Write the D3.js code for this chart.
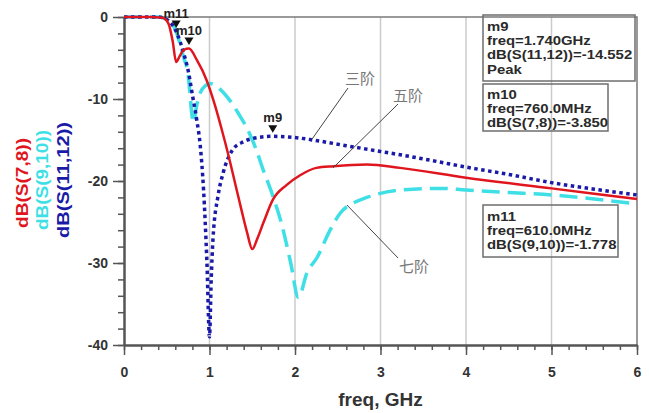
<!DOCTYPE html>
<html>
<head>
<meta charset="utf-8">
<script src="https://cdn.jsdelivr.net/npm/d3@7"></script>
<style>
body{margin:0;background:#fff;}
svg{display:block;font-family:"Liberation Sans",Arial,sans-serif;}
</style>
</head>
<body>
<svg id="chart" width="649" height="413"></svg>
<script>
// curves: [freq in GHz, dB]
const s78 = [[0,0],[0.3,0],[0.45,-0.1],[0.52,-0.8],[0.57,-3],[0.61,-5.5],[0.65,-4.8],[0.7,-4.0],[0.76,-3.85],
  [0.85,-5.2],[0.97,-7.8],[1.05,-10.3],[1.14,-13.6],[1.22,-16.8],[1.3,-20.3],[1.38,-23.8],[1.44,-26.3],[1.5,-28.3],
  [1.56,-27],[1.63,-25.1],[1.74,-22.3],[1.9,-20.5],[2.06,-19.3],[2.25,-18.4],[2.45,-18.2],[2.84,-18.0],
  [3.23,-18.4],[4.0,-19.6],[5.0,-20.9],[6.0,-22.2]];
const s910 = [[0,0],[0.4,0],[0.5,-0.3],[0.61,-1.778],[0.66,-3.5],[0.7,-5],[0.75,-7],[0.79,-11.5],[0.81,-12.9],
  [0.85,-10.8],[0.89,-9.3],[0.95,-8.4],[1.0,-8.1],[1.1,-8.6],[1.24,-10.2],[1.34,-11.8],[1.44,-13.6],[1.54,-16],
  [1.63,-18.7],[1.73,-21.5],[1.85,-25.5],[1.95,-30],[2.04,-34.2],[2.14,-31.2],[2.26,-29.3],[2.4,-26.2],
  [2.53,-23.9],[2.7,-22.6],[2.84,-22.0],[3.23,-21.1],[3.7,-20.9],[4.0,-21.1],[4.5,-21.4],[5.0,-21.7],
  [5.5,-22.2],[6.0,-22.8]];
const s1112 = [[0,0],[0.4,0],[0.5,-0.3],[0.62,-2],[0.7,-4.5],[0.75,-6.5],[0.8,-9.5],[0.85,-12.5],[0.89,-15.5],
  [0.93,-21],[0.97,-30],[1.0,-39],[1.02,-32],[1.04,-27.2],[1.1,-21.8],[1.16,-19.0],[1.27,-16.2],[1.4,-15.2],
  [1.51,-14.8],[1.74,-14.552],[2.0,-14.7],[2.21,-15.0],[2.6,-15.7],[3.0,-16.4],[3.23,-16.8],[3.6,-17.5],
  [4.0,-18.3],[4.5,-19.2],[5.0,-20.2],[5.5,-21.0],[6.0,-21.7]];

const xTicks = [0,1,2,3,4,5,6];
const yTicks = [0,-10,-20,-30,-40];
const yLabels = ["dB(S(7,8))","dB(S(9,10))","dB(S(11,12))"];

const markerNames = ["m9","m10","m11"];
const markerFreq = [1.74,0.76,0.61];
const markerDb = [-14.552,-3.85,-1.778];
const readouts = [
  ["m9","freq=1.740GHz","dB(S(11,12))=-14.552","Peak"],
  ["m10","freq=760.0MHz","dB(S(7,8))=-3.850"],
  ["m11","freq=610.0MHz","dB(S(9,10))=-1.778"]
];

// chinese notes: label anchor and leader line, in data units
const notes = [
  {text:"三阶", at:[2.585,-8.17], from:[2.62,-8.66], to:[2.2,-14.88]},
  {text:"五阶", at:[3.146,-10.24], from:[3.205,-10.61], to:[2.444,-18.41]},
  {text:"七阶", at:[3.216,-31.1], from:[3.205,-29.39], to:[2.608,-22.93]}
];

const RED = "#e0161e", CYAN = "#3fdfe6", BLUE = "#1a1aa8";

const svg = d3.select("#chart");
const x = d3.scaleLinear().domain([0,6]).range([124,637]);
const y = d3.scaleLinear().domain([-40,0]).range([345,17]);

// vertical grid
svg.append("g").selectAll("line").data(xTicks.slice(1,-1)).join("line")
  .attr("x1",x).attr("x2",x).attr("y1",y(0)).attr("y2",y(-40))
  .attr("stroke","#cbcbcb").attr("stroke-width",1.5);

// top + right frame
svg.append("path")
  .attr("d",`M${x(0)},${y(0)}H${x(6)}V${y(-40)}`)
  .attr("fill","none").attr("stroke","#7a7a7a").attr("stroke-width",1.5);

function styleAxis(g){
  g.select(".domain").attr("stroke","#555").attr("stroke-width",2);
  g.selectAll(".tick line").attr("stroke","#555").attr("stroke-width",1.5);
  g.selectAll(".tick text").attr("fill","#333").attr("font-size",14)
    .attr("font-weight","bold").attr("font-family","Liberation Sans, Arial, sans-serif");
}

const yMinor = d3.range(0,-41,-2);
const xMinor = d3.range(0,6.01,0.2);

svg.append("g").attr("transform",`translate(${x(0)},0)`)
  .call(d3.axisLeft(y).tickValues(yMinor).tickSize(6).tickFormat("").tickSizeOuter(0)).call(styleAxis);
svg.append("g").attr("transform",`translate(${x(0)},0)`)
  .call(d3.axisLeft(y).tickValues(yTicks).tickSize(11).tickPadding(5).tickFormat(d=>String(d)).tickSizeOuter(0))
  .call(styleAxis);
svg.append("g").attr("transform",`translate(0,${y(-40)})`)
  .call(d3.axisBottom(x).tickValues(xMinor).tickSize(5).tickFormat("").tickSizeOuter(0)).call(styleAxis);
svg.append("g").attr("transform",`translate(0,${y(-40)})`)
  .call(d3.axisBottom(x).tickValues(xTicks).tickSize(10).tickPadding(12).tickFormat(d=>String(d)).tickSizeOuter(0))
  .call(styleAxis);

// axis titles
svg.append("text").attr("x",(x(0)+x(6))/2).attr("y",406).attr("text-anchor","middle")
  .attr("font-size",19).attr("font-weight","bold").attr("fill","#333").text("freq, GHz");

const labelColors = [RED,CYAN,BLUE];
const labelLen = [90,100,116];
const labelX = [28,48,69];
const labelY = [183,180,180];
yLabels.forEach((t,i)=>{
  svg.append("text")
    .attr("transform",`translate(${labelX[i]},${labelY[i]}) rotate(-90)`)
    .attr("text-anchor","middle").attr("font-size",16).attr("font-weight","bold")
    .attr("fill",labelColors[i])
    .attr("textLength",labelLen[i]).attr("lengthAdjust","spacingAndGlyphs")
    .text(t);
});

// curves
const line = d3.line().x(d=>x(d[0])).y(d=>y(d[1])).curve(d3.curveMonotoneX);
svg.append("path").datum(s910).attr("d",line).attr("fill","none")
  .attr("stroke",CYAN).attr("stroke-width",3.5).attr("stroke-dasharray","18,8");
svg.append("path").datum(s1112).attr("d",line).attr("fill","none")
  .attr("stroke",BLUE).attr("stroke-width",3.5).attr("stroke-dasharray","3.5,3.5");
svg.append("path").datum(s78).attr("d",line).attr("fill","none")
  .attr("stroke",RED).attr("stroke-width",2.5);

// markers
markerNames.forEach((m,i)=>{
  const px = x(markerFreq[i]), py = y(markerDb[i]) - 3.5;
  svg.append("path").attr("transform",`translate(${px},${py})`)
    .attr("d","M-4.5,-7.5L4.5,-7.5L0,0Z").attr("fill","#111");
  svg.append("text").attr("x",px).attr("y",py-10.5).attr("text-anchor","middle")
    .attr("font-size",13).attr("font-weight","bold").attr("fill","#222").text(m);
});

// readout boxes (text is drawn wide, like the original export)
const boxes = [
  {x:483,y:15,w:152,h:66,base:31},
  {x:483,y:84,w:125,h:47,base:99},
  {x:483,y:205,w:135,h:52,base:221}
];
readouts.forEach((lines,i)=>{
  const b = boxes[i];
  svg.append("rect").attr("x",b.x).attr("y",b.y).attr("width",b.w).attr("height",b.h)
    .attr("fill","none").attr("stroke","#6e6e6e").attr("stroke-width",1.5);
  lines.forEach((t,j)=>{
    const txt = svg.append("text").attr("x",b.x+4).attr("y",b.base+j*14.2)
      .attr("font-size",12).attr("font-weight","bold").attr("fill","#2a2a2a").text(t);
    const w = txt.node().getComputedTextLength();
    txt.attr("textLength",w*1.24).attr("lengthAdjust","spacingAndGlyphs");
  });
});

// notes
notes.forEach(n=>{
  svg.append("line").attr("x1",x(n.from[0])).attr("y1",y(n.from[1]))
    .attr("x2",x(n.to[0])).attr("y2",y(n.to[1])).attr("stroke","#444").attr("stroke-width",1);
  svg.append("text").attr("x",x(n.at[0])).attr("y",y(n.at[1]))
    .attr("font-family","'Noto Sans CJK SC', sans-serif").attr("font-size",15)
    .attr("fill","#777").text(n.text);
});
</script>
</body>
</html>
